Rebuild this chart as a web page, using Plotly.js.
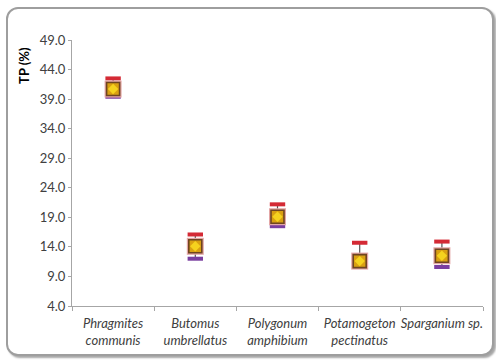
<!DOCTYPE html>
<html>
<head>
<meta charset="utf-8">
<script src="https://cdn.plot.ly/plotly-3.0.1.min.js"></script>
<style>
  html, body { margin: 0; padding: 0; background: #ffffff; }
  #wrap { position: relative; width: 496px; height: 362px; overflow: hidden; }
  #frame { position: absolute; left: 6px; top: 7px; width: 484px; height: 345px;
           border: 2px solid #9e9e9e; border-radius: 12px;
           box-shadow: 2px 2px 2px rgba(0,0,0,0.35); background: #ffffff; }
  #chart { position: absolute; left: 0; top: 0; width: 496px; height: 362px; }
</style>
</head>
<body>
<div id="wrap">
  <div id="frame"></div>
  <div id="chart"></div>
</div>
<script>
const categories = ["Phragmites<br>communis", "Butomus<br>umbrellatus", "Polygonum<br>amphibium", "Potamogeton<br>pectinatus", "Sparganium sp."];
const highVals = [42.5, 16.1, 21.2, 14.7, 14.9];
const lowVals  = [39.4, 12.0, 17.5, 10.6, 10.6];
const meanVals = [40.7, 14.1, 19.1, 11.6, 12.5];
const yTicks = [4, 9, 14, 19, 24, 29, 34, 39, 44, 49];

const lineX = [], lineY = [];
categories.forEach((c, i) => { lineX.push(c, c, null); lineY.push(highVals[i], lowVals[i], null); });

const traces = [
  { type: 'scatter', mode: 'lines', x: lineX, y: lineY, line: { color: '#555555', width: 1.2 }, hoverinfo: 'skip', showlegend: false },
  { type: 'scatter', mode: 'markers', x: categories, y: highVals, marker: { symbol: 'line-ew', size: 11, line: { color: '#d42a35', width: 4 } }, showlegend: false },
  { type: 'scatter', mode: 'markers', x: categories, y: lowVals, marker: { symbol: 'line-ew', size: 11, line: { color: '#7a3ea0', width: 4 } }, showlegend: false },
  { type: 'scatter', mode: 'markers', x: categories, y: meanVals, marker: { symbol: 'square', size: 17, color: '#e3a6a6', line: { width: 0 } }, showlegend: false },
  { type: 'scatter', mode: 'markers', x: categories, y: meanVals, marker: { symbol: 'square', size: 13, color: '#d9a012', line: { color: '#6e4520', width: 1.6 } }, showlegend: false },
  { type: 'scatter', mode: 'markers', x: categories, y: meanVals, marker: { symbol: 'diamond', size: 8, color: '#f5d21e', line: { width: 0 } }, showlegend: false }
];

const layout = {
  width: 496, height: 362,
  paper_bgcolor: 'rgba(0,0,0,0)', plot_bgcolor: 'rgba(0,0,0,0)',
  margin: { l: 72, r: 13, t: 40, b: 56 },
  font: { family: 'Lato, "Open Sans", sans-serif', color: '#404040', size: 12 },
  xaxis: {
    type: 'category', range: [-0.5, 4.5], tickangle: 0,
    showgrid: false, showline: true, linecolor: '#a6a6a6', linewidth: 1,
    ticks: 'outside', tickson: 'boundaries', ticklen: 4, tickcolor: '#a6a6a6',
    ticklabelstandoff: 5,
    tickfont: { family: 'Lato, sans-serif', size: 13, color: '#404040', style: 'italic' },
    fixedrange: true
  },
  yaxis: {
    range: [4, 49], tickvals: yTicks, ticktext: yTicks.map(v => v.toFixed(1)),
    showgrid: false, zeroline: false, showline: true, linecolor: '#a6a6a6', linewidth: 1,
    ticks: 'outside', ticklen: 3, tickcolor: '#a6a6a6',
    tickfont: { family: 'Lato, sans-serif', size: 13, color: '#404040' },
    fixedrange: true
  },
  annotations: [{
    text: '<b>TP (%)</b>', xref: 'paper', yref: 'paper', x: -0.117, y: 0.906,
    xanchor: 'center', yanchor: 'middle',
    textangle: -90, showarrow: false, font: { family: 'Lato, sans-serif', size: 13, color: '#000000' }
  }]
};

Plotly.newPlot('chart', traces, layout, { displayModeBar: false, staticPlot: true });
</script>
</body>
</html>
